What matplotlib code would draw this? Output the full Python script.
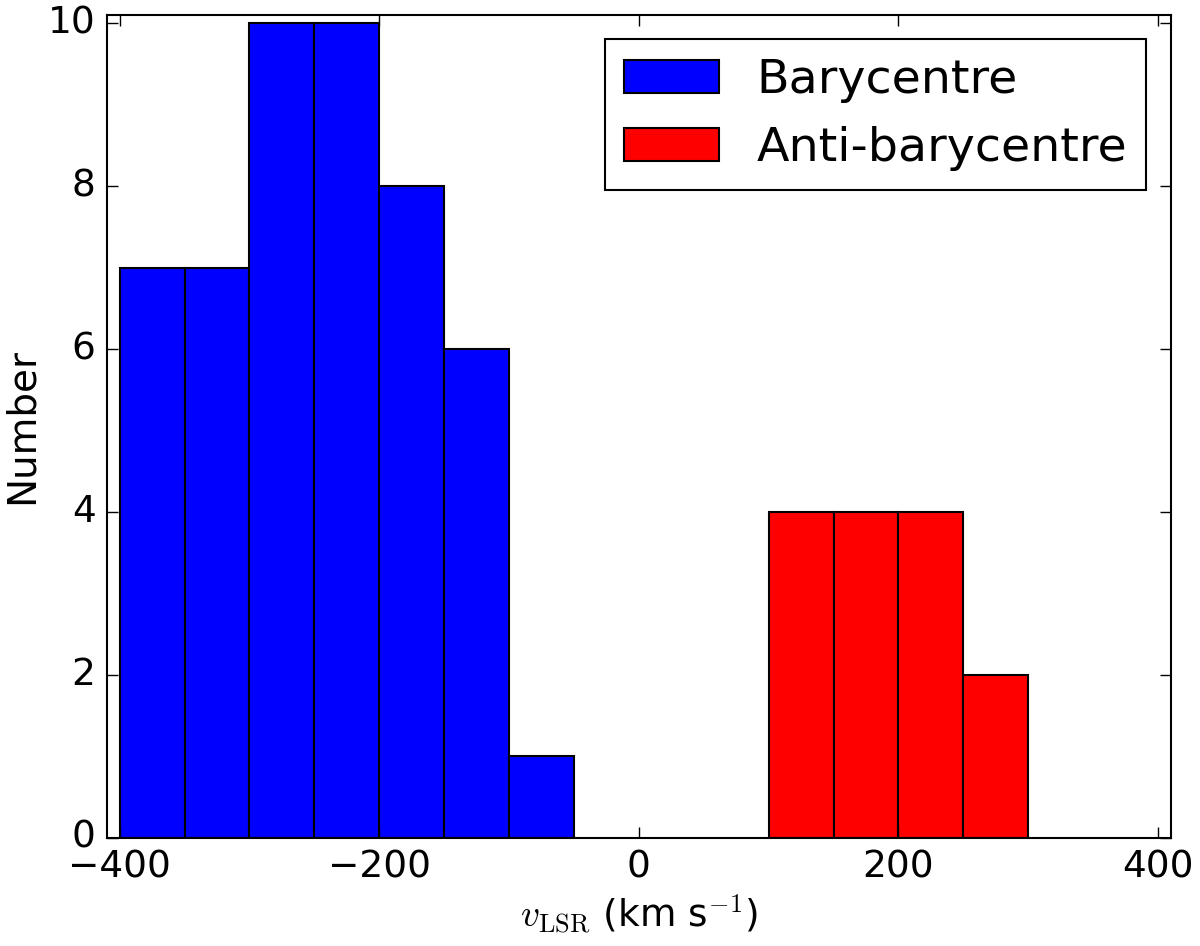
import numpy as np
import matplotlib
matplotlib.use('Agg')
import matplotlib.pyplot as plt

plt.style.use('classic')

# histogram data (bin left edges, width 50 km/s)
bary_edges = [-400, -350, -300, -250, -200, -150, -100]
bary_counts = [7, 7, 10, 10, 8, 6, 1]
anti_edges = [100, 150, 200, 250]
anti_counts = [4, 4, 4, 2]
bin_width = 50

fig = plt.figure(figsize=(12, 9.46), dpi=100)
ax = fig.add_axes([0.0889, 0.1142, 0.8869, 0.8700])

ax.bar(bary_edges, bary_counts, width=bin_width, align='edge', color='b',
       edgecolor='k', linewidth=1.5, label='Barycentre')
ax.bar(anti_edges, anti_counts, width=bin_width, align='edge', color='r',
       edgecolor='k', linewidth=1.5, label='Anti-barycentre')

ax.set_xlim(-410, 410)
ax.set_ylim(0, 10.1)
ax.set_xticks([-400, -200, 0, 200, 400])
ax.set_yticks([0, 2, 4, 6, 8, 10])
ax.tick_params(labelsize=27, width=1, length=8, pad=8)
for s in ax.spines.values():
    s.set_linewidth(1.5)

ax.set_xlabel(r'$v_{\rm LSR}$ (km s$^{-1}$)', fontsize=27)
ax.set_ylabel('Number', fontsize=28)

leg = ax.legend(loc='upper right', bbox_to_anchor=(0.9768, 0.9708), borderaxespad=0,
                fontsize=34.2, handlelength=2.0, handleheight=0.7, handletextpad=0.8,
                labelspacing=0.48, borderpad=0.4)
leg.get_frame().set_linewidth(1.5)

fig.savefig('out.png', dpi=100)
